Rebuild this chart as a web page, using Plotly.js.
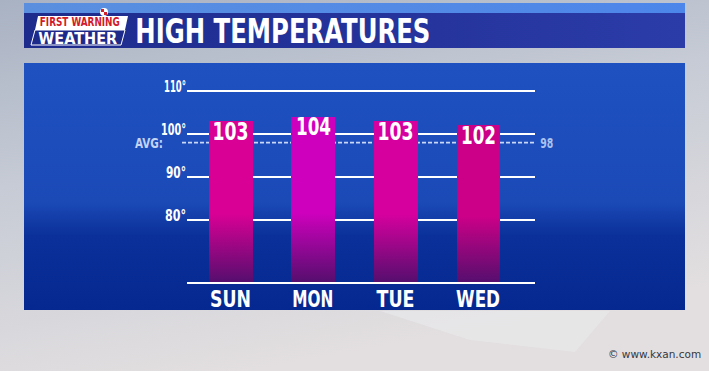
<!DOCTYPE html>
<html>
<head>
<meta charset="utf-8">
<script src="https://cdn.plot.ly/plotly-3.0.1.min.js"></script>
<style>
  html, body { margin: 0; padding: 0; background: #c9ced8; }
  #chart { width: 709px; height: 371px; background-repeat: no-repeat; background-size: 709px 371px; }
</style>
</head>
<body>
<div id="chart"></div>
<script>
// ---- data ----
var days = ["SUN", "MON", "TUE", "WED"];
var highs = [103, 104, 103, 102];
var avgTemp = 98;
var yTickVals = [80, 90, 100, 110];
var yTickText = ["80°", "90°", "100°", "110°"];

// ---- styles ----
var barColors = ["#d80095", "#cf00bd", "#d6009e", "#cc0088"];
var barDark = "#560e6e";
var FONT = "DejaVu Sans Condensed, DejaVu Sans, sans-serif";

// plot area in pixels
var W = 709, H = 371;
var PL = 187, PR = 535, PT = 80, PB = 282;
function px(x) { return (x - PL) / (PR - PL); }
function py(y) { return (PB - y) / (PB - PT); }

// decorative broadcast backdrop (panel, header band, logo plate)
var bgSvg =
  '<svg xmlns="http://www.w3.org/2000/svg" width="709" height="371" viewBox="0 0 709 371">' +
  '<defs>' +
  '<linearGradient id="bg" x1="0" y1="0" x2="0.35" y2="1">' +
  '<stop offset="0" stop-color="#a9b2c3"/><stop offset="0.45" stop-color="#c6cbd5"/><stop offset="1" stop-color="#e3dfe0"/></linearGradient>' +
  '<linearGradient id="pn" x1="0" y1="0" x2="0" y2="1">' +
  '<stop offset="0" stop-color="#1f51c1"/><stop offset="0.56" stop-color="#1b4ab7"/>' +
  '<stop offset="0.70" stop-color="#0b3099"/><stop offset="1" stop-color="#052890"/></linearGradient>' +
  '<linearGradient id="hd" x1="0" y1="0" x2="1" y2="0">' +
  '<stop offset="0" stop-color="#1d2b8c"/><stop offset="1" stop-color="#2b3ba8"/></linearGradient>' +
  '<linearGradient id="st" x1="0" y1="0" x2="1" y2="0">' +
  '<stop offset="0" stop-color="#5a8fdf"/><stop offset="1" stop-color="#4d86ea"/></linearGradient>' +
  '</defs>' +
  '<rect width="709" height="371" fill="url(#bg)"/>' +
  '<polygon points="380,311 610,311 575,352 470,340" fill="#eef0f3" opacity="0.4"/>' +
  '<rect x="24" y="3" width="661" height="11" fill="url(#st)"/>' +
  '<rect x="24" y="13" width="661" height="35" fill="url(#hd)"/>' +
  '<polygon points="38,16 128,16 125,30 35,30" fill="#ffffff"/>' +
  '<polygon points="35,30 125,30 121,45 31,45" fill="#1d2a8a" stroke="#ffffff" stroke-width="1"/>' +
  '<circle cx="104" cy="12" r="4" fill="#ffffff"/>' +
  '<rect x="101" y="9" width="3" height="3" fill="#d0202c"/><rect x="104" y="12" width="3" height="3" fill="#d0202c"/>' +
  '<rect x="24" y="63" width="661" height="247" fill="url(#pn)"/>' +
  '</svg>';

var gd = document.getElementById("chart");
gd.style.backgroundImage = 'url("data:image/svg+xml;charset=utf-8,' + encodeURIComponent(bgSvg) + '")';

var trace = {
  type: "bar",
  x: days,
  y: highs,
  width: 0.533,
  marker: { color: barColors, line: { width: 0 } },
  textposition: "none",
  hoverinfo: "none"
};

var annotations = [
  { text: "HIGH TEMPERATURES", xref: "paper", yref: "paper", x: px(283), y: py(31),
    xanchor: "center", yanchor: "middle", showarrow: false,
    font: { family: FONT, size: 33, color: "#ffffff", weight: "bold" } },
  { text: "FIRST WARNING", xref: "paper", yref: "paper", x: px(80), y: py(22),
    xanchor: "center", yanchor: "middle", showarrow: false,
    font: { family: FONT, size: 12, color: "#d11a2a", weight: "bold" } },
  { text: "WEATHER", xref: "paper", yref: "paper", x: px(78), y: py(38.5),
    xanchor: "center", yanchor: "middle", showarrow: false,
    font: { family: FONT, size: 15, color: "#ffffff", weight: "bold" } },
  { text: "AVG:", xref: "paper", yref: "y", x: px(149), y: avgTemp,
    xanchor: "center", yanchor: "middle", showarrow: false,
    font: { family: FONT, size: 14, color: "#c3d3f3", weight: "bold" } },
  { text: String(avgTemp), xref: "paper", yref: "y", x: px(546.5), y: avgTemp,
    xanchor: "center", yanchor: "middle", showarrow: false,
    font: { family: FONT, size: 14, color: "#a9c2f0", weight: "bold" } },
  { text: "© www.kxan.com", xref: "paper", yref: "paper", x: px(703), y: py(354),
    xanchor: "right", yanchor: "middle", showarrow: false,
    font: { family: "DejaVu Sans, sans-serif", size: 10.5, color: "#333842" } }
];
days.forEach(function (d, i) {
  annotations.push({ text: d, xref: "x", yref: "paper", x: d, y: py(298.5),
    xanchor: "center", yanchor: "middle", showarrow: false,
    font: { family: FONT, size: 23, color: "#ffffff", weight: "bold" } });
  annotations.push({ text: String(highs[i]), xref: "x", yref: "y", x: d, y: highs[i],
    xanchor: "center", yanchor: "middle", yshift: -10, showarrow: false,
    font: { family: FONT, size: 25, color: "#ffffff", weight: "bold" } });
});

var layout = {
  width: W, height: H, autosize: false,
  margin: { l: PL, r: W - PR, t: PT, b: H - PB, pad: 0 },
  paper_bgcolor: "rgba(0,0,0,0)",
  plot_bgcolor: "rgba(0,0,0,0)",
  showlegend: false,
  bargap: 0,
  xaxis: {
    type: "category",
    range: [-0.533, 3.685],
    showgrid: false, zeroline: false,
    showline: true, linecolor: "#ffffff", linewidth: 2,
    ticks: "", showticklabels: false,
    fixedrange: true
  },
  yaxis: {
    range: [65.58, 112.56],
    tickvals: yTickVals, ticktext: yTickText,
    showgrid: true, gridcolor: "#ffffff", gridwidth: 2,
    zeroline: false, showline: false, ticks: "",
    ticklabelstandoff: 0, ticklabelshift: -4,
    tickfont: { family: FONT, size: 15, color: "#ffffff", weight: "bold" },
    fixedrange: true
  },
  shapes: [{
    type: "line", xref: "paper", yref: "y", layer: "below",
    x0: px(182), x1: 1, y0: avgTemp, y1: avgTemp,
    line: { color: "#c9d8f6", width: 1.6, dash: "4px,2px" }
  }],
  annotations: annotations
};

// horizontal condensing of text (the broadcast font is a condensed face)
var fixedWidths = {
  "HIGH TEMPERATURES": 295, "FIRST WARNING": 80, "WEATHER": 79, "AVG:": 28,
  "110°": 22, "100°": 25, "90°": 20, "80°": 21,
  "SUN": 41, "MON": 41, "TUE": 38, "WED": 44,
  "103": 36, "104": 35, "102": 35
};
fixedWidths[String(avgTemp)] = 13;

function decorate() {
  var ns = "http://www.w3.org/2000/svg";
  var svg = gd.querySelector("svg.main-svg");
  if (!svg) return;
  var defs = svg.querySelector("defs");
  if (!defs) { defs = document.createElementNS(ns, "defs"); svg.insertBefore(defs, svg.firstChild); }
  var base = document.querySelector("base");
  var prefix = base ? window.location.href.split("#")[0] : "";
  var plotH = PB - PT;
  var paths = gd.querySelectorAll("g.point > path");
  for (var i = 0; i < paths.length; i++) {
    var id = "bargrad" + i;
    var old = document.getElementById(id);
    if (old) old.parentNode.removeChild(old);
    var top = paths[i].getBBox().y;
    var lg = document.createElementNS(ns, "linearGradient");
    lg.setAttribute("id", id);
    lg.setAttribute("gradientUnits", "userSpaceOnUse");
    lg.setAttribute("x1", "0"); lg.setAttribute("x2", "0");
    lg.setAttribute("y1", String(top)); lg.setAttribute("y2", String(plotH));
    var stops = [["0", barColors[i]], ["0.58", barColors[i]], ["1", barDark]];
    for (var k = 0; k < stops.length; k++) {
      var st = document.createElementNS(ns, "stop");
      st.setAttribute("offset", stops[k][0]);
      st.setAttribute("stop-color", stops[k][1]);
      lg.appendChild(st);
    }
    defs.appendChild(lg);
    paths[i].style.setProperty("fill", "url('" + prefix + "#" + id + "')", "important");
  }
  var texts = gd.querySelectorAll("text");
  for (var j = 0; j < texts.length; j++) {
    var te = texts[j];
    var t = te.textContent;
    if (fixedWidths.hasOwnProperty(t)) {
      te.setAttribute("textLength", String(fixedWidths[t]));
      te.setAttribute("lengthAdjust", "spacingAndGlyphs");
    }
  }
}

var pr = Plotly.newPlot(gd, [trace], layout, { staticPlot: true, displayModeBar: false });
if (pr && pr.then) pr.then(decorate);
setTimeout(decorate, 300);
</script>
</body>
</html>
